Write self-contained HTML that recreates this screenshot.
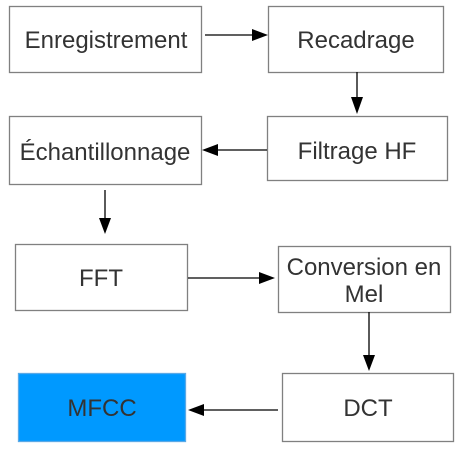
<!DOCTYPE html>
<html><head><meta charset="utf-8"><style>
html,body{margin:0;padding:0;background:#fff;width:468px;height:449px;overflow:hidden}
text{font-family:"Liberation Sans",sans-serif;font-size:24px;fill:#333;text-anchor:middle}
rect{fill:#fff;stroke:#808080;stroke-width:1.3}
line{stroke:#000;stroke-width:1.3}
polygon{fill:#000}
</style></head><body>
<svg width="468" height="449" viewBox="0 0 468 449" xmlns="http://www.w3.org/2000/svg">
<rect x="9.5" y="6.5" width="192" height="66"/>
<text x="106" y="48">Enregistrement</text>
<rect x="268.5" y="6.5" width="175" height="66"/>
<text x="356" y="48">Recadrage</text>
<rect x="267.5" y="116.5" width="180" height="64"/>
<text x="357" y="159">Filtrage HF</text>
<rect x="9.5" y="116.5" width="192" height="68"/>
<text x="105" y="160">Échantillonnage</text>
<rect x="15.5" y="244.5" width="172" height="66"/>
<text x="101" y="286">FFT</text>
<rect x="278.5" y="246.5" width="172" height="66"/>
<text x="364" y="275">Conversion en</text>
<text x="364" y="302">Mel</text>
<rect x="282.5" y="373.5" width="171" height="68"/>
<text x="368" y="416">DCT</text>
<rect x="18.5" y="373.5" width="167" height="68" style="fill:#0099ff;stroke:#5aa9e6"/>
<text x="102" y="416">MFCC</text>

<line x1="205" y1="35" x2="252" y2="35"/><polygon points="252,29 268,35 252,41"/>
<line x1="357" y1="72" x2="357" y2="97"/><polygon points="351,97 357,114 363,97"/>
<line x1="267" y1="150" x2="218" y2="150"/><polygon points="218,144 202,150 218,156"/>
<line x1="105" y1="190" x2="105" y2="218"/><polygon points="99,218 105,234 111,218"/>
<line x1="188" y1="278" x2="259" y2="278"/><polygon points="259,272 275,278 259,284"/>
<line x1="369" y1="312" x2="369" y2="355"/><polygon points="363,355 369,371 375,355"/>
<line x1="278" y1="410" x2="204" y2="410"/><polygon points="204,404 188,410 204,416"/>
</svg>
</body></html>
